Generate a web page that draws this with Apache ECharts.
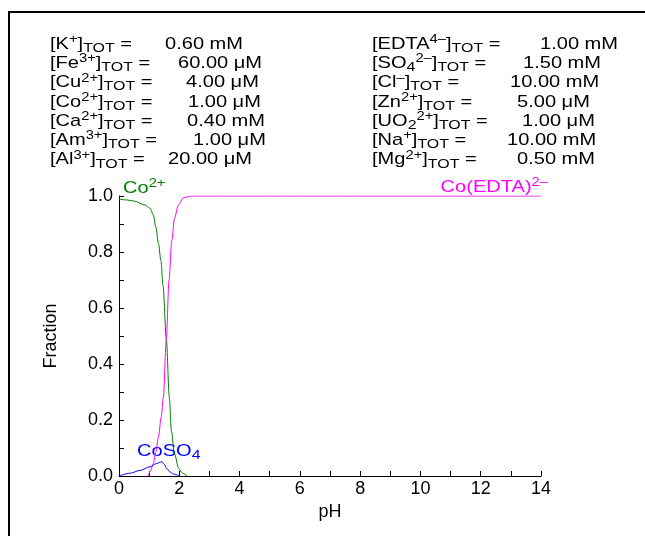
<!DOCTYPE html>
<html>
<head>
<meta charset="utf-8">
<script src="https://cdn.jsdelivr.net/npm/echarts@6/dist/echarts.min.js"></script>
<style>html,body{margin:0;padding:0;background:#fff}#c{width:645px;height:536px}</style>
</head>
<body>
<div id="c"></div>
<script>
// ---- data ----
const xTicks = [0, 2, 4, 6, 8, 10, 12, 14];
const yTicks = [0, 0.2, 0.4, 0.6, 0.8, 1.0];

const phCo = [0, 0.25, 0.5, 0.86, 1.03, 1.14, 1.22, 1.31, 1.39, 1.46, 1.57, 1.67, 1.74, 1.84, 1.98, 2.1, 2.26];
const fracCo = [0.989, 0.986, 0.982, 0.968, 0.956, 0.932, 0.89, 0.83, 0.77, 0.68, 0.49, 0.28, 0.16, 0.08, 0.027, 0.01, 0];

const phCoEDTA = [0.97, 1.05, 1.14, 1.22, 1.31, 1.40, 1.47, 1.57, 1.66, 1.75, 1.84, 1.97, 2.14, 2.41, 14];
const fracCoEDTA = [0, 0.02, 0.045, 0.085, 0.14, 0.21, 0.28, 0.49, 0.70, 0.84, 0.92, 0.968, 0.994, 1.0, 1.0];

const phCoSO4 = [0, 0.37, 0.7, 1.03, 1.25, 1.42, 1.5, 1.58, 1.7, 1.8, 2.03];
const fracCoSO4 = [0, 0.01, 0.02, 0.033, 0.045, 0.051, 0.042, 0.027, 0.014, 0.007, 0];

const leftLabels = ['[K{sup|+}]{sub|TOT} =', '[Fe{sup|3+}]{sub|TOT} =', '[Cu{sup|2+}]{sub|TOT} =', '[Co{sup|2+}]{sub|TOT} =', '[Ca{sup|2+}]{sub|TOT} =', '[Am{sup|3+}]{sub|TOT} =', '[Al{sup|3+}]{sub|TOT} ='];
const leftValues = ['0.60 mM', '60.00 μM', '4.00 μM', '1.00 μM', '0.40 mM', '1.00 μM', '20.00 μM'];
const rightLabels = ['[EDTA{sup|4–}]{sub|TOT} =', '[SO{sub|4}{sup|2–}]{sub|TOT} =', '[Cl{sup|–}]{sub|TOT} =', '[Zn{sup|2+}]{sub|TOT} =', '[UO{sub|2}{sup|2+}]{sub|TOT} =', '[Na{sup|+}]{sub|TOT} =', '[Mg{sup|2+}]{sub|TOT} ='];
const rightValues = ['1.00 mM', '1.50 mM', '10.00 mM', '5.00 μM', '1.00 μM', '10.00 mM', '0.50 mM'];

// ---- layout/style ----
const FONT = '"Liberation Sans", Arial, Helvetica, sans-serif';
const SX = 1.18;
const leftValX = [165, 178, 186, 188, 187, 193, 168];
const rightValX = [540, 523, 510, 517, 522, 507, 517];

function zip(a, b) { return a.map((v, i) => [v, b[i]]); }

function txt(x, y, text, color, align) {
  return {
    type: 'text', x: x, y: y, scaleX: SX, silent: true,
    style: {
      x: 0, y: 0, text: text, fill: color, fontFamily: FONT, fontSize: 17, lineHeight: 22,
      align: align || 'left', verticalAlign: 'middle',
      rich: {
        sup: { fontFamily: FONT, fontSize: 12.5, lineHeight: 12, verticalAlign: 'top', fill: color },
        sub: { fontFamily: FONT, fontSize: 13.5, lineHeight: 12, verticalAlign: 'bottom', fill: color }
      }
    }
  };
}

const graphics = [
  { type: 'rect', silent: true, shape: { x: 9, y: 12, width: 700, height: 600 }, style: { fill: 'none', stroke: '#000', lineWidth: 2 } }
];
for (let i = 0; i < leftLabels.length; i++) {
  const y = 44 + i * 19.3;
  graphics.push(txt(50, y, leftLabels[i], '#000'));
  graphics.push(txt(leftValX[i], y, leftValues[i], '#000'));
  graphics.push(txt(372, y, rightLabels[i], '#000'));
  graphics.push(txt(rightValX[i], y, rightValues[i], '#000'));
}
graphics.push(txt(123, 188, 'Co{sup|2+}', '#008000'));
graphics.push(txt(548, 187, 'Co(EDTA){sup|2–}', '#ff00ff', 'right'));
graphics.push(txt(137, 451, 'CoSO{sub|4}', '#0000ff'));

const chart = echarts.init(document.getElementById('c'), null, { renderer: 'canvas' });
chart.setOption({
  animation: false,
  backgroundColor: '#fff',
  grid: { left: 119, right: 104, top: 196, bottom: 60, containLabel: false },
  xAxis: {
    type: 'value', min: 0, max: 14, interval: 2,
    name: 'pH', nameLocation: 'middle', nameGap: 10,
    nameTextStyle: { fontFamily: FONT, fontSize: 18, color: '#000' },
    axisLine: { show: true, onZero: false, lineStyle: { color: '#000', width: 1 } },
    axisTick: { show: true, inside: true, length: 5, lineStyle: { color: '#000' } },
    minorTick: { show: true, splitNumber: 2, length: 5, lineStyle: { color: '#000' } },
    splitLine: { show: false },
    axisLabel: { fontFamily: FONT, fontSize: 18, color: '#000', margin: 4,
      customValues: xTicks, formatter: v => String(v) }
  },
  yAxis: {
    type: 'value', min: 0, max: 1, interval: 0.2,
    name: 'Fraction', nameLocation: 'middle', nameGap: 59,
    nameTextStyle: { fontFamily: FONT, fontSize: 18, color: '#000' },
    axisLine: { show: true, onZero: false, lineStyle: { color: '#000', width: 1 } },
    axisTick: { show: true, inside: true, length: 5, lineStyle: { color: '#000' } },
    minorTick: { show: true, splitNumber: 2, length: 5, lineStyle: { color: '#000' } },
    splitLine: { show: false },
    axisLabel: { fontFamily: FONT, fontSize: 18, color: '#000', margin: 6, padding: [0, 0, 6, 0],
      customValues: yTicks, formatter: v => v.toFixed(1) }
  },
  series: [
    { name: 'Co2+', type: 'line', data: zip(phCo, fracCo), showSymbol: false, smooth: 0.3, smoothMonotone: 'x',
      lineStyle: { color: '#008000', width: 1 }, itemStyle: { color: '#008000' } },
    { name: 'Co(EDTA)2-', type: 'line', data: zip(phCoEDTA, fracCoEDTA), showSymbol: false, smooth: 0.3, smoothMonotone: 'x',
      lineStyle: { color: '#ff00ff', width: 1 }, itemStyle: { color: '#ff00ff' } },
    { name: 'CoSO4', type: 'line', data: zip(phCoSO4, fracCoSO4), showSymbol: false, smooth: 0.3, smoothMonotone: 'x',
      lineStyle: { color: '#0000ff', width: 1 }, itemStyle: { color: '#0000ff' } }
  ],
  graphic: graphics
});
</script>
</body>
</html>
